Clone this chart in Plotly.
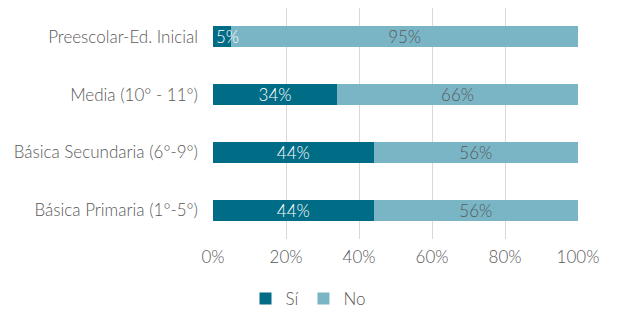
import plotly.graph_objects as go

categories = ["Básica Primaria (1°-5°)", "Básica Secundaria (6°-9°)",
              "Media (10° - 11°)", "Preescolar-Ed. Inicial"]
si_values = [44, 44, 34, 5]
no_values = [56, 56, 66, 95]
x_ticks = [0, 20, 40, 60, 80, 100]

FONT = "Lato, sans-serif"
GREY = "#595959"
SIZE = 17
NARROW = 10  # segments too thin to hold a centred label

fig = go.Figure()
fig.add_trace(go.Bar(
    y=categories, x=si_values, name="Sí", orientation="h",
    marker=dict(color="#016C85", line=dict(width=0)),
    text=[f"{v}%" if v >= NARROW else "" for v in si_values],
    textposition="inside",
    insidetextanchor="middle", constraintext="none", textangle=0,
    textfont=dict(color="white", size=SIZE, family=FONT, weight=300),
))
fig.add_trace(go.Bar(
    y=categories, x=no_values, name="No", orientation="h",
    marker=dict(color="#7AB5C6", line=dict(width=0)),
    text=[f"{v}%" for v in no_values], textposition="inside",
    insidetextanchor="middle", constraintext="none", textangle=0,
    textfont=dict(color=GREY, size=SIZE, family=FONT, weight=300),
))

# thin "Sí" segments get their label left-aligned at the bar start
for cat, v in zip(categories, si_values):
    if v < NARROW:
        fig.add_annotation(
            x=0, y=cat, xref="x", yref="y", text=f"{v}%",
            xanchor="left", yanchor="middle", showarrow=False, xshift=1,
            font=dict(color="white", size=SIZE, family=FONT, weight=300),
        )

fig.update_layout(
    barmode="stack", bargap=0.64,
    width=617, height=325,
    margin=dict(l=213, r=39, t=8, b=86, autoexpand=False),
    paper_bgcolor="white", plot_bgcolor="white",
    font=dict(family=FONT, color=GREY, size=SIZE, weight=300),
    showlegend=True,
    legend=dict(orientation="h", xref="container", yref="container",
                x=0.5, xanchor="center", y=0.08, yanchor="middle",
                font=dict(size=SIZE, color=GREY, weight=300),
                traceorder="normal", itemwidth=30,
                tracegroupgap=0),
    xaxis=dict(range=[0, 100], tickvals=x_ticks,
               ticktext=[f"{v}%" for v in x_ticks],
               showgrid=True, gridcolor="#D9D9D9", gridwidth=1,
               zeroline=False, showline=False, ticks="",
               ticklabelstandoff=6,
               tickfont=dict(size=SIZE, color=GREY, weight=300)),
    yaxis=dict(showgrid=False, ticks="", ticklen=0,
               ticklabelstandoff=14,
               tickfont=dict(size=SIZE, color=GREY, weight=300)),
)

fig.write_html("out.html")
